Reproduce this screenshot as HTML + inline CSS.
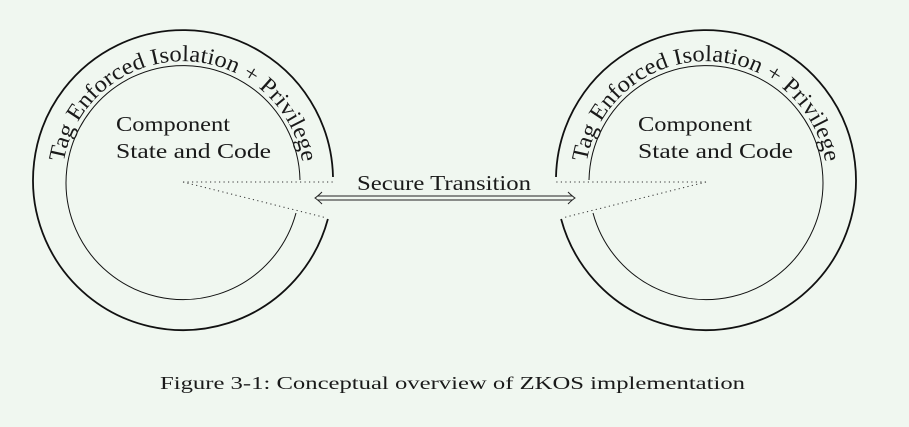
<!DOCTYPE html>
<html><head><meta charset="utf-8"><style>
html,body{margin:0;padding:0;background:#f0f7f0;}
svg{display:block}
text{font-family:"Liberation Serif",serif;fill:#1a1a1a}
</style></head><body>
<svg width="909" height="427" viewBox="0 0 909 427" xmlns="http://www.w3.org/2000/svg">
<rect width="909" height="427" fill="#f0f7f0"/>
<defs>
<path id="arcL" d="M 63.8 203.0 A 121 121 0 1 1 302.2 203.0"/>
<path id="arcR" d="M 586.8 203.0 A 121 121 0 1 1 825.2 203.0"/>
</defs>
<g fill="none" stroke="#111">
<path d="M 333 177 A 150 150 0 1 0 327.9 219" stroke-width="1.8"/>
<path d="M 300 180 A 117 117 0 1 0 296 213" stroke-width="1"/>
<path d="M 556 177 A 150 150 0 1 1 561.1 219" stroke-width="1.8"/>
<path d="M 589 180 A 117 117 0 1 1 593 213" stroke-width="1"/>
</g>
<g stroke="#333" stroke-width="1" stroke-dasharray="1.2 3.3" fill="none">
<line x1="183" y1="182" x2="333" y2="182"/>
<line x1="183" y1="182" x2="327" y2="218"/>
<line x1="706" y1="182" x2="556" y2="182"/>
<line x1="706" y1="182" x2="562" y2="218"/>
</g>
<text font-size="23"><textPath href="#arcL" startOffset="50%" text-anchor="middle" textLength="340" lengthAdjust="spacingAndGlyphs">Tag Enforced Isolation + Privilege</textPath></text>
<text font-size="23"><textPath href="#arcR" startOffset="50%" text-anchor="middle" textLength="340" lengthAdjust="spacingAndGlyphs">Tag Enforced Isolation + Privilege</textPath></text>
<text x="116" y="131" font-size="21" textLength="114" lengthAdjust="spacingAndGlyphs">Component</text>
<text x="116" y="158" font-size="21" textLength="155" lengthAdjust="spacingAndGlyphs">State and Code</text>
<text x="638" y="131" font-size="21" textLength="114" lengthAdjust="spacingAndGlyphs">Component</text>
<text x="638" y="158" font-size="21" textLength="155" lengthAdjust="spacingAndGlyphs">State and Code</text>
<g stroke="#222" fill="none" stroke-width="1">
<line x1="318" y1="196" x2="572" y2="196"/>
<line x1="318" y1="200" x2="572" y2="200"/>
<path d="M 322 192 Q 318 196 315 198 Q 318 200 322 204"/>
<path d="M 568 192 Q 572 196 575 198 Q 572 200 568 204"/>
</g>
<text x="357" y="190" font-size="21" textLength="174" lengthAdjust="spacingAndGlyphs">Secure Transition</text>
<text x="160" y="389" font-size="18" textLength="585" lengthAdjust="spacingAndGlyphs">Figure 3-1: Conceptual overview of ZKOS implementation</text>
</svg>
</body></html>
